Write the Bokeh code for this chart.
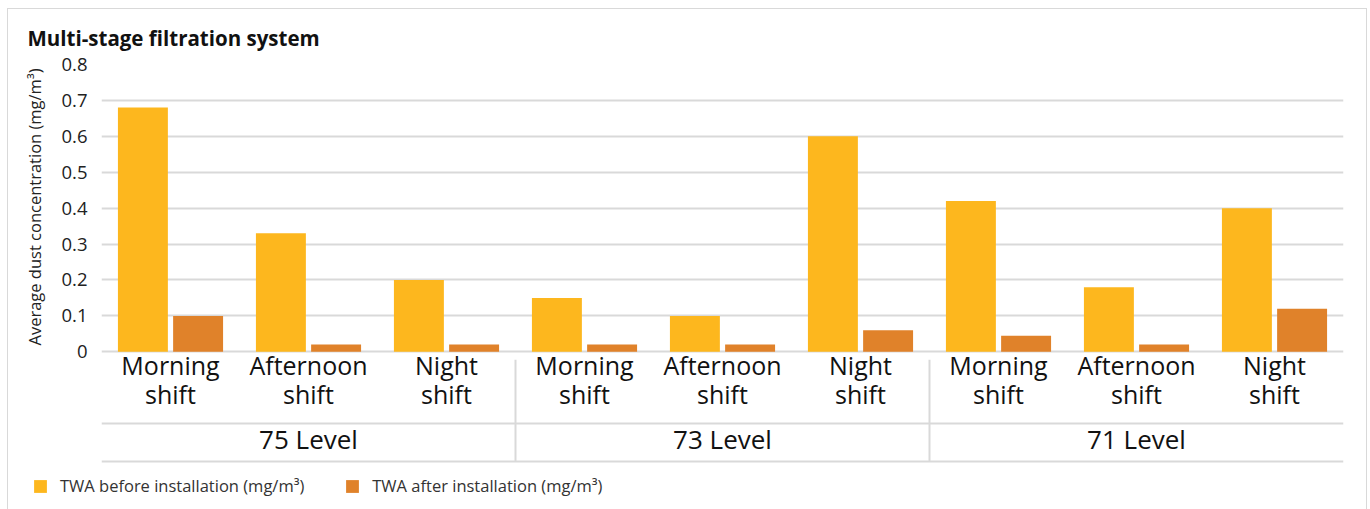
from bokeh.plotting import figure
from bokeh.models import (FactorRange, Range1d, FixedTicker, Span, Legend,
                          LegendItem, ColumnDataSource, Title)
from bokeh.transform import dodge
from bokeh.core.properties import value
from bokeh.embed import file_html
from bokeh.resources import INLINE

# ---------------- data ----------------
levels = ["75 Level", "73 Level", "71 Level"]
shifts = ["Morning shift", "Afternoon shift", "Night shift"]
before = [0.68, 0.33, 0.20, 0.15, 0.10, 0.60, 0.42, 0.18, 0.40]
after = [0.10, 0.02, 0.02, 0.02, 0.02, 0.06, 0.045, 0.02, 0.12]
y_ticks = [0, 0.1, 0.2, 0.3, 0.4, 0.5, 0.6, 0.7, 0.8]
y_tick_labels = ["0", "0.1", "0.2", "0.3", "0.4", "0.5", "0.6", "0.7", "0.8"]
series_names = ["TWA before installation (mg/m³)", "TWA after installation (mg/m³)"]
chart_title = "Multi-stage filtration system"
y_title = "Average dust concentration (mg/m³)"

# ---------------- styles ----------------
FONT = "Open Sans"
YELLOW = "#FDB71E"
ORANGE = "#E0822A"
GRID = "#d9d9d9"
BORDER = "1px solid #d9d9d9"
PX_PER_UNIT = 360.0

factors = [(lv, sh) for lv in levels for sh in shifts]
source = ColumnDataSource(dict(
    x=factors,
    before=before,
    after=after,
    line1=[sh.split(" ")[0] for lv in levels for sh in shifts],
    line2=[sh.split(" ")[1] for lv in levels for sh in shifts],
))

x_range = FactorRange(*factors, factor_padding=0, group_padding=0,
                      subgroup_padding=0, range_padding=0)
y_range = Range1d(-116 / PX_PER_UNIT, 0.8)

p = figure(width=1360, height=463, x_range=x_range, y_range=y_range,
           output_backend="svg", toolbar_location=None,
           min_border_left=92, min_border_right=25, min_border_top=53,
           min_border_bottom=5)
p.styles = {"margin-left": "7px", "margin-top": "8px",
            "border-top": BORDER, "border-left": BORDER, "border-right": BORDER}
p.outline_line_color = None
p.background_fill_color = "white"
p.border_fill_color = "white"

# title
p.title.text = chart_title
p.title.align = "left"
p.title.offset = -74
p.title.standoff = 25
p.title.text_font = FONT
p.title.text_font_size = "20.5px"
p.title.text_font_style = "bold"
p.title.text_color = "#111111"

# axes
p.xaxis.visible = False
p.yaxis.ticker = FixedTicker(ticks=y_ticks)
p.yaxis.major_label_overrides = {t: l for t, l in zip(y_ticks, y_tick_labels)}
p.yaxis.axis_line_color = None
p.yaxis.major_tick_line_color = None
p.yaxis.minor_tick_line_color = None
p.yaxis.major_tick_out = 0
p.yaxis.major_tick_in = 0
p.yaxis.major_label_standoff = 14
p.yaxis.major_label_text_font = FONT
p.yaxis.major_label_text_font_size = "18.5px"
p.yaxis.major_label_text_color = "#222222"

# y-axis title (side panel)
p.add_layout(Title(text=y_title, align="right", offset=4, standoff=25,
                   text_font=FONT, text_font_size="16.5px",
                   text_font_style="normal", text_color="#222222"), "left")

# grid
p.xgrid.visible = False
p.ygrid.ticker = FixedTicker(ticks=y_ticks)
p.ygrid.grid_line_color = GRID
p.ygrid.grid_line_width = 2

# bars
n_shift = len(shifts)
r1 = p.vbar(x=dodge("x", -0.2, range=p.x_range), top="before", width=0.362,
            source=source, color=YELLOW, line_color=None)
r2 = p.vbar(x=dodge("x", 0.2, range=p.x_range), top="after", width=0.362,
            source=source, color=ORANGE, line_color=None)

# category labels (two lines)
p.text(x="x", y=-13 / PX_PER_UNIT, text="line1", source=source,
       text_font=value(FONT), text_font_size="25px", text_color="#111111",
       text_align="center", text_baseline="middle")
p.text(x="x", y=-42 / PX_PER_UNIT, text="line2", source=source,
       text_font=value(FONT), text_font_size="25px", text_color="#111111",
       text_align="center", text_baseline="middle")

# level labels
p.text(x=levels, y=[-87 / PX_PER_UNIT] * len(levels), text=levels,
       text_font=value(FONT), text_font_size="26px", text_color="#111111",
       text_align="center", text_baseline="middle")

# separator lines
p.add_layout(Span(location=-72 / PX_PER_UNIT, dimension="width",
                  line_color=GRID, line_width=2))
p.add_layout(Span(location=-110 / PX_PER_UNIT, dimension="width",
                  line_color=GRID, line_width=2))
bounds = [i * n_shift for i in range(1, len(levels))]
p.segment(x0=bounds, x1=bounds, y0=[-8 / PX_PER_UNIT] * len(bounds),
          y1=[-110 / PX_PER_UNIT] * len(bounds), line_color=GRID, line_width=2)

# ---------------- legend strip ----------------
pl = figure(width=1360, height=38, x_range=Range1d(0, 1), y_range=Range1d(0, 1),
            output_backend="svg", toolbar_location=None,
            min_border_left=0, min_border_right=0, min_border_top=0,
            min_border_bottom=0)
pl.styles = {"margin-left": "7px", "border-left": BORDER, "border-right": BORDER}
pl.axis.visible = False
pl.grid.visible = False
pl.outline_line_color = None
pl.background_fill_color = "white"
pl.border_fill_color = "white"
nan = float("nan")
key_src = ColumnDataSource(dict(left=[nan], right=[nan], top=[nan], bottom=[nan]))
k1 = pl.quad(source=key_src, left="left", right="right", top="top",
             bottom="bottom", color=YELLOW, line_color=None)
k2 = pl.quad(source=key_src, left="left", right="right", top="top",
             bottom="bottom", color=ORANGE, line_color=None)
legend = Legend(items=[LegendItem(label=series_names[0], renderers=[k1]),
                       LegendItem(label=series_names[1], renderers=[k2])],
                orientation="horizontal", location=(24, 12),
                glyph_width=16, glyph_height=16, label_height=16,
                label_standoff=12, spacing=40, padding=0, margin=0,
                border_line_color=None, background_fill_alpha=0,
                label_text_font=FONT, label_text_font_size="16.5px",
                label_text_color="#333333")
pl.add_layout(legend)

open("out.html", "w").write(file_html([p, pl], INLINE))
